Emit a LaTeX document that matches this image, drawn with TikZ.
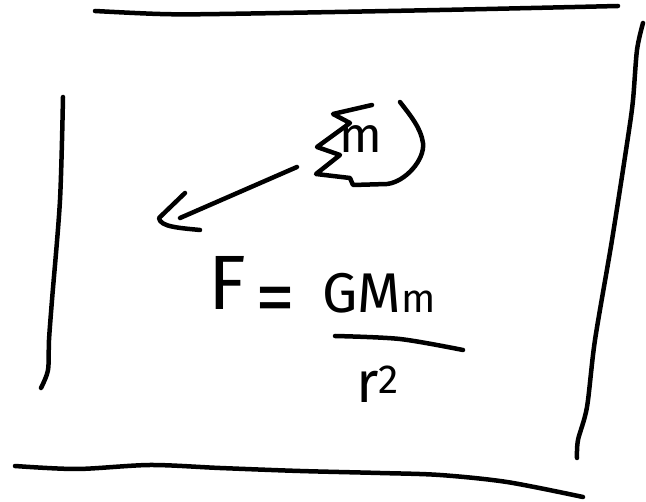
\documentclass[tikz,border=0pt]{standalone}
\usepackage{fontspec}
\setmainfont{Fira Sans}
\usetikzlibrary{calc}
\tikzset{
  pen/.style={line width=4.5pt,line cap=round,line join=round,draw=black},
  hand/.style={inner sep=0pt,anchor=base west,font=\fontsize{#1}{#1}\selectfont}
}

\begin{document}
\begin{tikzpicture}[x=1pt,y=-1pt]
 \useasboundingbox (0,0) rectangle (646,502);
 % frame
 \draw[pen] plot[smooth] coordinates {(95,11) (160,14) (220,14) (440,10) (618,6)};
 \draw[pen] plot[smooth] coordinates {(643,23) (637,50) (633,100) (628,137) (612,240) (595,340) (587,407) (578,440) (577,458)};
 \draw[pen] plot[smooth] coordinates {(63,97) (60,200) (52,300) (49,340) (48,370) (41,388)};
 \draw[pen] plot[smooth] coordinates {(15,466) (77,469) (150,465) (220,468) (300,471) (380,473) (440,475) (507,482) (583,497)};
 % mass
 \node[hand=50] (mass) at (339,153) {m};
 \draw[pen] (372,105) -- (333,114) -- (350,123) -- (317,147) -- (340,155) -- (316,174) -- (350,178) -- (353,185) -- (387,184)
   .. controls (405,182) and (425,160) .. (423,143) .. controls (421,128) and (410,115) .. (400,102);
 % pull
 \coordinate (tail) at (297,167);
 \coordinate (tip) at (180,218);
 \draw[pen] (tail) -- (tip);
 \draw[pen] (185,193) -- (159,218) .. controls (160,227) and (180,228) .. (200,230);
 % law
 \node[hand=77] (force) at (208,310) {F};
 \node[hand=80] (equals) at (255,325) {=};
 \node[hand=56] (num) at (322,313) {GM{\fontsize{40}{40}\selectfont m}};
 \draw[pen] plot[smooth] coordinates {(335,336) (400,339) (463,350)};
 \node[hand=58] (den) at (356,403) {r\textsuperscript{2}};
\end{tikzpicture}
\end{document}
